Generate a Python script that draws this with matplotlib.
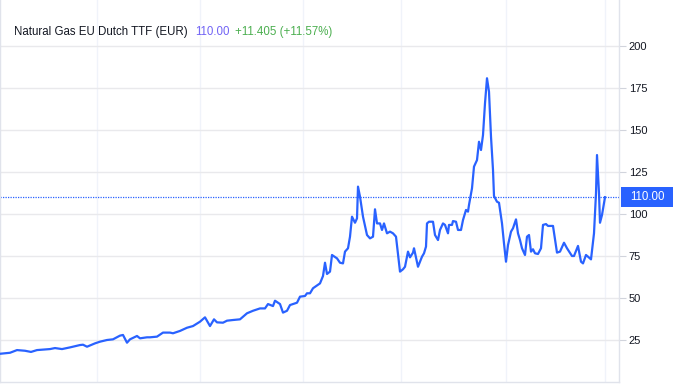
import matplotlib
matplotlib.use('Agg')
import matplotlib.pyplot as plt
from matplotlib.patches import Rectangle

# 数据
t = [0, 10, 17, 25, 31, 37, 50, 55, 62, 70, 80, 83, 87, 95, 100, 107, 113, 120, 123, 127,
     130, 137, 140, 147, 150, 157, 163, 170, 173, 180, 187, 193, 200, 205, 208, 210, 214, 217,
     223, 227, 233, 240, 247, 253, 260, 265, 268, 273, 275, 280, 283, 287, 290, 297, 300, 305,
     307, 310, 313, 320, 323, 325, 327, 330, 332, 337, 340, 343, 345, 348, 350, 352, 355, 357,
     358, 360, 363, 367, 370, 373, 375, 377, 380, 382, 384, 387, 390, 393, 396, 400, 403, 405,
     408, 410, 413, 414, 418, 422, 424, 426, 427, 429, 433, 435, 438, 440, 443, 445, 448, 449,
     452, 453, 456, 458, 461, 463, 466, 468, 469, 472, 474, 477, 479, 481, 483, 485, 487, 488,
     489, 491, 493, 494, 497, 499, 502, 504, 506, 508, 511, 513, 516, 518, 520, 522, 525, 527,
     529, 531, 533, 535, 538, 541, 543, 546, 548, 553, 557, 560, 564, 567, 572, 574, 578, 581,
     583, 586, 588, 591, 594, 596, 597, 599, 600, 602, 605]
price = [16.8, 17.4, 19.0, 18.6, 17.9, 19.0, 19.6, 20.2, 19.6, 20.6, 22.0, 22.2, 21.0, 23.0,
         24.0, 25.0, 25.4, 27.6, 28.0, 23.4, 25.4, 27.4, 26.0, 26.6, 26.6, 27.0, 29.4, 29.4,
         29.0, 30.4, 32.3, 33.3, 35.9, 38.5, 35.3, 33.3, 37.3, 35.5, 35.3, 36.5, 36.9, 37.3,
         40.9, 42.4, 43.8, 43.8, 46.4, 45.2, 48.4, 46.4, 41.3, 42.4, 45.8, 47.2, 50.8, 51.2,
         52.8, 52.8, 55.8, 58.7, 63.1, 71.0, 64.3, 65.7, 75.6, 73.6, 71.0, 70.6, 77.6, 79.6,
         86.5, 98.4, 94.8, 97.4, 116.3, 110.3, 98.4, 87.5, 85.5, 86.5, 102.8, 94.4, 94.4, 90.5,
         94.4, 88.5, 89.5, 88.5, 86.5, 65.7, 67.1, 68.6, 77.6, 74.2, 77.0, 79.6, 68.6, 74.6,
         76.6, 80.6, 94.4, 95.4, 95.4, 87.5, 84.5, 90.5, 94.4, 93.5, 88.5, 93.5, 93.5, 95.8,
         95.4, 90.5, 90.5, 96.4, 102.4, 101.4, 105.4, 115.3, 128.2, 132.1, 143.0, 138.1, 147.0,
         165.9, 180.8, 176.8, 172.8, 146.0, 126.2, 110.7, 107.3, 106.7, 94.4, 82.5, 71.6, 81.5,
         89.5, 91.5, 96.8, 88.5, 84.5, 79.6, 75.6, 86.5, 87.5, 77.6, 79.0, 76.6, 76.2, 79.6,
         93.5, 94.0, 92.9, 92.9, 77.0, 77.6, 82.9, 79.6, 75.0, 75.0, 81.0, 71.6, 70.6, 75.6,
         74.6, 73.0, 88.5, 112.3, 135.1, 112.3, 94.8, 99.4, 110.0]
y_ticks = [25, 50, 75, 100, 125, 150, 175, 200]
grid_t = [97, 200, 303, 401, 506, 605]
last_price = 110.00
change = '+11.405 (+11.57%)'
title = 'Natural Gas EU Dutch TTF (EUR)'

plt.rcParams['font.family'] = ['Liberation Sans', 'DejaVu Sans']

W, H = 674, 386
fig = plt.figure(figsize=(W / 100, H / 100), dpi=100)
ax = fig.add_axes([0, 4 / H, 619 / W, 382 / H])

line_color = '#2962ff'
ax.plot(t, price, color=line_color, linewidth=1.6, solid_joinstyle='round', zorder=3)
ax.axhline(last_price, color=line_color, linewidth=0.9, linestyle=(0, (1.0, 1.0)), zorder=2)

ax.set_xlim(0, 619)
ax.set_ylim(0, 382 / 1.68)

# 网格
ax.set_yticks(y_ticks)
ax.set_xticks(grid_t)
ax.set_xticklabels([])
ax.tick_params(axis='x', length=0)
for v in y_ticks:
    ax.axhline(v, color='#e9e9ec', linewidth=1.0, zorder=1)
for g in grid_t:
    ax.axvline(g, color='#f0f3fa', linewidth=1.0, zorder=0)

# 右侧价格轴
ax.yaxis.tick_right()
ax.tick_params(axis='y', length=5, width=0.8, color='#d1d4dc', pad=2,
               labelsize=8.0, labelcolor='#131722')
for name, sp in ax.spines.items():
    sp.set_color('#e0e3eb')
    sp.set_linewidth(1.0)
ax.spines['top'].set_visible(False)

# 最新价格标签
tr = ax.get_yaxis_transform()
box_y = ax.transData.transform((0, last_price))[1]
fig.add_artist(Rectangle((621 / W, (box_y - 10) / H), 52 / W, 20 / H,
                         transform=fig.transFigure, facecolor=line_color,
                         edgecolor='none', zorder=5))
fig.text(647 / W, box_y / H, f'{last_price:.2f}', ha='center', va='center',
         color='white', fontsize=8.3, zorder=6)

# 标题
fig.text(14 / W, 1 - 35 / H, title, color='#131722', fontsize=8.3, va='baseline')
fig.text(195 / W, 1 - 35 / H, f'{last_price:.2f}', color='#7163f5', fontsize=8.3, va='baseline')
fig.text(235 / W, 1 - 35 / H, change, color='#4caf50', fontsize=8.3, va='baseline')

fig.savefig('out.png', dpi=100)
